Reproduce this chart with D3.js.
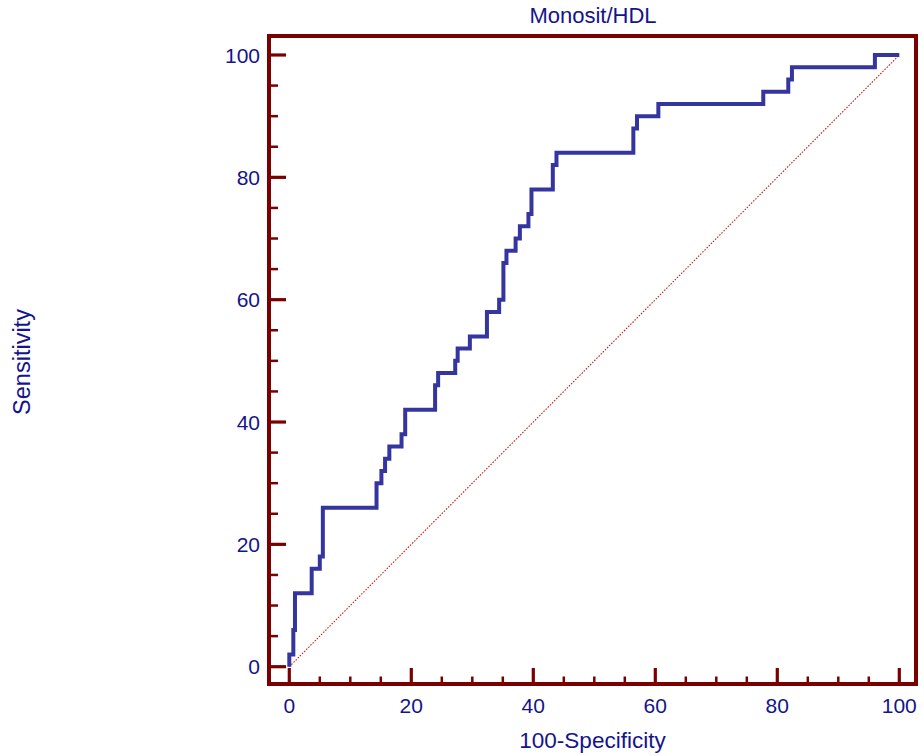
<!DOCTYPE html>
<html><head><meta charset="utf-8">
<script src="https://cdn.jsdelivr.net/npm/d3@7"></script>
<style>body{margin:0;background:#fff}svg{display:block}text{font-family:"Liberation Sans",Arial,sans-serif;fill:#14148c}</style>
</head><body>
<svg id="c" width="924" height="756"></svg>
<script>
// ROC corner points (100-Specificity, Sensitivity)
const fpr = [0, 0, 0.66, 0.93, 3.67, 5.0, 5.5, 14.3, 15.1, 15.7, 16.4, 18.4, 19.0, 23.9, 24.4, 27.2, 27.6, 29.6, 32.4, 34.4, 35.1, 35.6, 37.1, 37.8, 39.2, 39.7, 43.2, 43.8, 56.4, 57.0, 60.5, 77.7, 81.8, 82.4, 96.0, 100];
const tpr = [0, 2, 6, 12, 16, 18, 26, 30, 32, 34, 36, 38, 42, 46, 48, 50, 52, 54, 58, 60, 66, 68, 70, 72, 74, 78, 82, 84, 88, 90, 92, 94, 96, 98, 100, 100];
const xMajor = [0, 20, 40, 60, 80, 100];
const yMajor = [0, 20, 40, 60, 80, 100];
const title = "Monosit/HDL";
const xTitle = "100-Specificity";
const yTitle = "Sensitivity";

const svg = d3.select("#c");
const x = d3.scaleLinear().domain([0, 100]).range([289.3, 899.3]);
const y = d3.scaleLinear().domain([0, 100]).range([666.7, 55]);
const frame = {l: 269, r: 916, t: 36, b: 684};
const dark = "#7a0000";

// diagonal reference
svg.append("line").attr("x1", x(0)).attr("y1", y(0)).attr("x2", x(100)).attr("y2", y(100))
  .attr("stroke", "#c01818").attr("stroke-width", 1.1).attr("stroke-dasharray", "1.5,1.5");

// ROC curve
const pts = fpr.map((v, i) => [v, tpr[i]]);
svg.append("path").datum(pts)
  .attr("d", d3.line().x(d => x(d[0])).y(d => y(d[1])).curve(d3.curveStepAfter))
  .attr("fill", "none").attr("stroke", "#3535a0").attr("stroke-width", 4).attr("stroke-linejoin", "miter");

// ticks
const minor = d3.range(0, 101, 5);
const gx = svg.append("g");
gx.selectAll("line").data(minor).join("line")
  .attr("x1", d => x(d)).attr("x2", d => x(d))
  .attr("y1", frame.b).attr("y2", d => frame.b - (d % 20 === 0 ? 16 : 7.5))
  .attr("stroke", dark).attr("stroke-width", d => d % 20 === 0 ? 3.2 : 2.5);
const gy = svg.append("g");
gy.selectAll("line").data(minor).join("line")
  .attr("y1", d => y(d)).attr("y2", d => y(d))
  .attr("x1", frame.l).attr("x2", d => frame.l + (d % 20 === 0 ? 17 : 9))
  .attr("stroke", dark).attr("stroke-width", d => d % 20 === 0 ? 3.2 : 2.5);

// frame
svg.append("rect").attr("x", frame.l).attr("y", frame.t)
  .attr("width", frame.r - frame.l).attr("height", frame.b - frame.t)
  .attr("fill", "none").attr("stroke", dark).attr("stroke-width", 4);

// tick labels
svg.append("g").selectAll("text").data(xMajor).join("text")
  .attr("x", d => x(d)).attr("y", 713).attr("text-anchor", "middle")
  .attr("font-size", 21).text(d => d);
svg.append("g").selectAll("text").data(yMajor).join("text")
  .attr("x", 260).attr("y", d => y(d) + 7.5).attr("text-anchor", "end")
  .attr("font-size", 21).text(d => d);

// titles
svg.append("text").attr("x", 593).attr("y", 22.5).attr("text-anchor", "middle")
  .attr("font-size", 22).text(title);
svg.append("text").attr("x", 592.5).attr("y", 748).attr("text-anchor", "middle")
  .attr("font-size", 22.5).text(xTitle);
svg.append("text").attr("transform", "translate(29.5,362) rotate(-90)").attr("text-anchor", "middle")
  .attr("font-size", 23.5).text(yTitle);
</script>
</body></html>
